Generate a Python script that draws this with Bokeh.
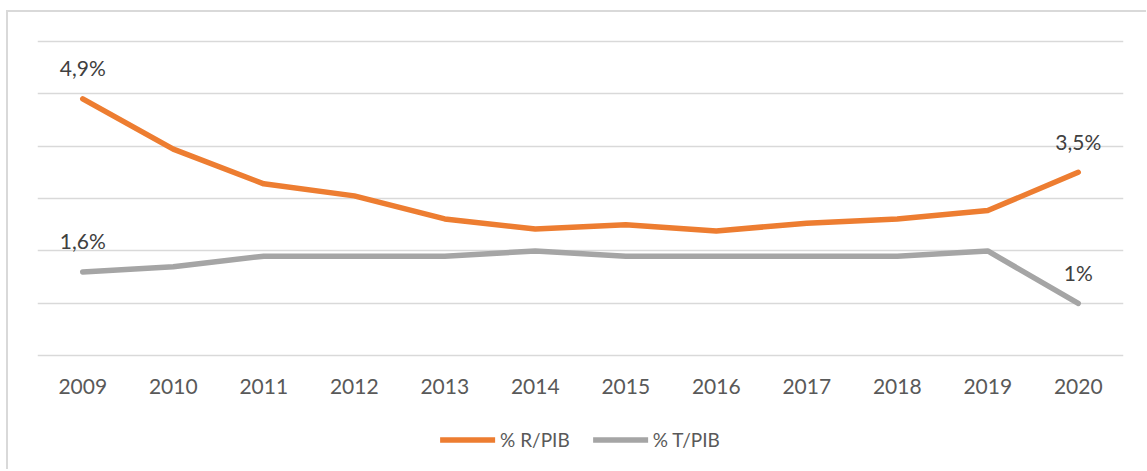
from bokeh.plotting import figure
from bokeh.layouts import column
from bokeh.models import ColumnDataSource, FixedTicker, Legend, LegendItem, Range1d
from bokeh.core.properties import value
from bokeh.embed import file_html
from bokeh.resources import INLINE

years = ["2009", "2010", "2011", "2012", "2013", "2014", "2015", "2016", "2017", "2018", "2019", "2020"]
r_pib = [4.9, 3.94, 3.28, 3.05, 2.61, 2.42, 2.50, 2.38, 2.53, 2.61, 2.77, 3.5]
t_pib = [1.6, 1.7, 1.9, 1.9, 1.9, 2.0, 1.9, 1.9, 1.9, 1.9, 2.0, 1.0]
label_years = ["2009", "2020", "2009", "2020"]
label_values = [4.9, 3.5, 1.6, 1.0]
label_texts = ["4,9%", "3,5%", "1,6%", "1%"]
series_names = ["% R/PIB", "% T/PIB"]
grid_values = [0, 1, 2, 3, 4, 5, 6]

ORANGE = "#ED7D31"
GRAY = "#A5A5A5"
FONT = "Lato"

p = figure(x_range=years, y_range=Range1d(-0.05, 6.05), width=1130, height=401,
           output_backend="svg", toolbar_location=None,
           min_border_left=29, min_border_right=15, min_border_top=26, min_border_bottom=55)
p.outline_line_color = None
p.background_fill_color = "white"
p.border_fill_color = "white"

src = ColumnDataSource(dict(year=years, r=r_pib, t=t_pib))
p.line("year", "r", source=src, line_color=ORANGE, line_width=5.5,
       line_cap="round", line_join="round")
p.line("year", "t", source=src, line_color=GRAY, line_width=5.5,
       line_cap="round", line_join="round")

lsrc = ColumnDataSource(dict(x=label_years, y=label_values, t=label_texts))
p.text("x", "y", text="t", source=lsrc, text_align="center", text_baseline="middle",
       y_offset=-31, text_font=value(FONT), text_font_size="21px", text_color="#404040")

p.yaxis.visible = False
p.ygrid.ticker = FixedTicker(ticks=grid_values)
p.ygrid.grid_line_color = "#D9D9D9"
p.ygrid.grid_line_width = 1.5
p.xgrid.grid_line_color = None

ax = p.xaxis[0]
ax.axis_line_color = None
ax.major_tick_line_color = None
ax.minor_tick_line_color = None
ax.major_tick_out = 0
ax.major_label_standoff = 20
ax.major_label_text_font = FONT
ax.major_label_text_font_size = "21px"
ax.major_label_text_color = "#595959"

# legend strip
p2 = figure(x_range=years, y_range=Range1d(100, 101), width=1130, height=52,
            output_backend="svg", toolbar_location=None,
            min_border_left=29, min_border_right=15, min_border_top=0, min_border_bottom=0)
p2.outline_line_color = None
p2.axis.visible = False
p2.grid.visible = False
lr = p2.line("year", "r", source=src, line_color=ORANGE, line_width=5.5, line_cap="round")
lt = p2.line("year", "t", source=src, line_color=GRAY, line_width=5.5, line_cap="round")
legend = Legend(items=[LegendItem(label=series_names[0], renderers=[lr]),
                       LegendItem(label=series_names[1], renderers=[lt])],
                orientation="horizontal", location="center",
                glyph_width=55, glyph_height=20, label_standoff=5, spacing=23,
                label_text_font=FONT, label_text_font_size="19px",
                label_text_color="#595959", border_line_color=None,
                background_fill_alpha=0, margin=0, padding=0)
p2.add_layout(legend, "center")

layout = column(p, p2, spacing=0)
layout.styles = {"border-top": "2px solid #D9D9D9", "border-left": "2px solid #D9D9D9",
                 "margin-top": "10px", "margin-left": "6px",
                 "padding-right": "8px", "padding-bottom": "4px"}

open("out.html", "w").write(file_html(layout, INLINE))
